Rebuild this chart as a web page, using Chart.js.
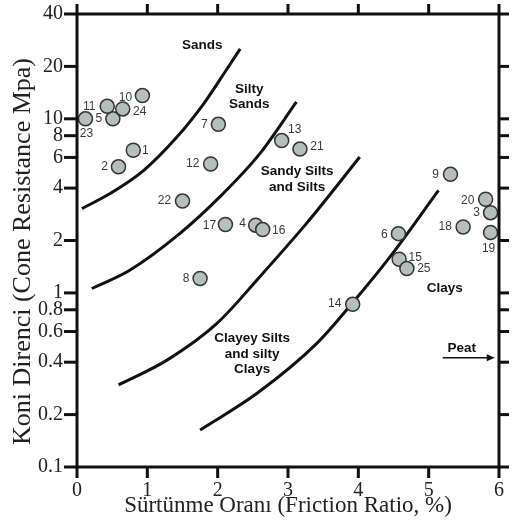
<!DOCTYPE html>
<html>
<head>
<meta charset="utf-8">
<script src="https://cdn.jsdelivr.net/npm/chart.js@4.4.1/dist/chart.umd.min.js"></script>
<style>
  body { margin: 0; background: #fff; }
</style>
</head>
<body>
<canvas id="cpt-chart" width="519" height="523"></canvas>
<script>
// CPT soundings (friction ratio %, cone resistance MPa)
const pointIds = ['1', '2', '3', '4', '5', '6', '7', '8', '9', '10', '11', '12', '13',
                  '14', '15', '16', '17', '18', '19', '20', '21', '22', '23', '24', '25'];
const frictionRatio = [0.80, 0.59, 5.88, 2.54, 0.51, 4.57, 2.01, 1.75, 5.31, 0.93, 0.43, 1.90, 2.91,
                       3.92, 4.58, 2.64, 2.11, 5.49, 5.88, 5.81, 3.17, 1.50, 0.12, 0.65, 4.69];
const coneResistance = [6.6, 5.3, 2.89, 2.45, 10.0, 2.19, 9.3, 1.21, 4.8, 13.6, 11.8, 5.5, 7.5,
                        0.86, 1.56, 2.31, 2.47, 2.39, 2.22, 3.45, 6.7, 3.37, 10.0, 11.4, 1.38];

// where each number sits relative to its circle (px)
const labelDx = [12, -14, -14, -13, -14, -14, -14, -14, -15, -17, -18, -18, 13,
                 -18, 16, 16, -16, -18, -2, -18, 17, -18, 1, 17, 17];
const labelDy = [0, 0, 0, -1, 0, 1, 0, 0, 0, 2, 0, 0, -11,
                 -1, -2, 1, 1, 0, 16, 1, -2, 0, 15, 3, 0];

// zone boundaries
const sandsBoundX = [0.07, 0.47, 0.95, 1.42, 1.80, 2.09, 2.32];
const sandsBoundY = [3.05, 3.72, 5.06, 7.85, 12.2, 18.2, 25.2];
const siltySandsBoundX = [0.21, 0.75, 1.46, 2.03, 2.60, 3.12];
const siltySandsBoundY = [1.06, 1.35, 2.19, 3.56, 6.31, 12.5];
const sandySiltsBoundX = [0.59, 1.28, 1.99, 2.60, 3.26, 4.02];
const sandySiltsBoundY = [0.296, 0.411, 0.668, 1.24, 2.50, 6.03];
const clayeySiltsBoundX = [1.75, 2.56, 3.41, 3.93, 4.45, 5.14];
const clayeySiltsBoundY = [0.163, 0.265, 0.513, 0.889, 1.61, 3.88];

const xTicks = [0, 1, 2, 3, 4, 5, 6];
const yTicks = [0.1, 0.2, 0.4, 0.6, 0.8, 1, 2, 4, 6, 8, 10, 20, 40];

// zone names, anchored at the middle of each text block
const zones = [
    { lines: ['Sands'], x: 1.78, y: 26.4 },
    { lines: ['Silty', 'Sands'], x: 2.45, y: 13.4 },
    { lines: ['Sandy Silts', 'and Silts'], x: 3.13, y: 4.49 },
    { lines: ['Clayey Silts', 'and silty', 'Clays'], x: 2.49, y: 0.445 },
    { lines: ['Clays'], x: 5.23, y: 1.06 },
    { lines: ['Peat'], x: 5.47, y: 0.48 }
];
const peatArrowX = [5.20, 5.94];
const peatArrowY = 0.424;

const SERIF = '"Liberation Serif", "Times New Roman", serif';
const SANS = '"Liberation Sans", Arial, sans-serif';
const INK = '#111';

function curve(xs, ys) {
    return {
        type: 'line',
        data: xs.map((v, i) => ({ x: v, y: ys[i] })),
        borderColor: INK,
        borderWidth: 3,
        pointRadius: 0,
        cubicInterpolationMode: 'monotone',
        fill: false,
        order: 1
    };
}

const annotate = {
    id: 'annotate',
    afterDatasetsDraw(chart) {
        const { ctx, chartArea: area, scales } = chart;
        const sx = scales.x, sy = scales.y;
        ctx.save();

        // tick marks: each one runs from just inside the box to outside it
        ctx.strokeStyle = INK;
        ctx.lineWidth = 3;
        ctx.lineCap = 'butt';
        for (const v of xTicks) {
            const px = sx.getPixelForValue(v);
            ctx.beginPath();
            ctx.moveTo(px, area.bottom - 1);
            ctx.lineTo(px, area.bottom + 11);
            ctx.stroke();
            ctx.beginPath();
            ctx.moveTo(px, area.top + 1);
            ctx.lineTo(px, area.top - 10);
            ctx.stroke();
        }
        for (const v of yTicks) {
            const py = sy.getPixelForValue(v);
            ctx.beginPath();
            ctx.moveTo(area.left + 1, py);
            ctx.lineTo(area.left - 13, py);
            ctx.stroke();
            ctx.beginPath();
            ctx.moveTo(area.right - 1, py);
            ctx.lineTo(area.right + 10, py);
            ctx.stroke();
        }
        ctx.strokeRect(area.left, area.top, area.right - area.left, area.bottom - area.top);

        ctx.textAlign = 'center';
        ctx.textBaseline = 'middle';

        // sounding numbers
        ctx.font = '12px ' + SANS;
        ctx.fillStyle = '#3a3a3a';
        pointIds.forEach((id, i) => {
            ctx.fillText(id,
                sx.getPixelForValue(frictionRatio[i]) + labelDx[i],
                sy.getPixelForValue(coneResistance[i]) + labelDy[i]);
        });

        // zone names
        ctx.font = 'bold 13.5px ' + SANS;
        ctx.fillStyle = INK;
        zones.forEach(z => {
            const cx = sx.getPixelForValue(z.x);
            const top = sy.getPixelForValue(z.y) - (z.lines.length - 1) * 15.5 / 2;
            z.lines.forEach((t, k) => ctx.fillText(t, cx, top + k * 15.5));
        });

        // peat arrow
        const ay = sy.getPixelForValue(peatArrowY);
        const ax0 = sx.getPixelForValue(peatArrowX[0]);
        const ax1 = sx.getPixelForValue(peatArrowX[1]);
        ctx.lineWidth = 1.5;
        ctx.beginPath();
        ctx.moveTo(ax0, ay);
        ctx.lineTo(ax1 - 6, ay);
        ctx.stroke();
        ctx.beginPath();
        ctx.moveTo(ax1, ay);
        ctx.lineTo(ax1 - 8, ay - 3.5);
        ctx.lineTo(ax1 - 8, ay + 3.5);
        ctx.closePath();
        ctx.fill();

        // y axis title
        ctx.font = '26px ' + SERIF;
        ctx.fillStyle = '#222';
        ctx.translate(23, (area.top + area.bottom) / 2 + 11);
        ctx.rotate(-Math.PI / 2);
        ctx.fillText('Koni Direnci (Cone Resistance Mpa)', 0, 0);
        ctx.restore();
    }
};

// tick marks are drawn by the plugin; keep their length for label spacing
const hiddenGrid = len => ({ display: false, drawTicks: true, tickLength: len });
const setTicks = list => scale => { scale.ticks = list.map(v => ({ value: v })); };

new Chart(document.getElementById('cpt-chart'), {
    type: 'scatter',
    data: {
        datasets: [
            {
                label: 'CPT',
                data: frictionRatio.map((v, i) => ({ x: v, y: coneResistance[i] })),
                backgroundColor: '#b4bfba',
                borderColor: '#333',
                borderWidth: 1.5,
                pointRadius: 7,
                order: 0
            },
            curve(sandsBoundX, sandsBoundY),
            curve(siltySandsBoundX, siltySandsBoundY),
            curve(sandySiltsBoundX, sandySiltsBoundY),
            curve(clayeySiltsBoundX, clayeySiltsBoundY)
        ]
    },
    options: {
        responsive: false,
        animation: false,
        layout: { padding: 0 },
        plugins: { legend: { display: false }, tooltip: { enabled: false } },
        scales: {
            x: {
                type: 'linear', position: 'bottom', min: 0, max: 6,
                afterBuildTicks: setTicks(xTicks),
                ticks: { font: { family: SERIF, size: 20 }, color: '#222', padding: 2 },
                grid: hiddenGrid(10), border: { display: false },
                title: {
                    display: true, text: 'Sürtünme Oranı (Friction Ratio, %)',
                    font: { family: SERIF, size: 23, lineHeight: 1 }, color: '#222',
                    padding: { top: 0, bottom: 6 }
                },
                afterFit: s => { s.height = 56; }
            },
            x2: {
                type: 'linear', position: 'top', min: 0, max: 6,
                ticks: { display: false },
                grid: hiddenGrid(9), border: { display: false },
                afterFit: s => { s.height = 13.5; }
            },
            y: {
                type: 'logarithmic', position: 'left', min: 0.1, max: 40,
                afterBuildTicks: setTicks(yTicks),
                ticks: { font: { family: SERIF, size: 20 }, color: '#222', padding: 2,
                         callback: v => String(v) },
                grid: hiddenGrid(12), border: { display: false },
                afterFit: s => { s.width = 77; }
            },
            y2: {
                type: 'logarithmic', position: 'right', min: 0.1, max: 40,
                ticks: { display: false },
                grid: hiddenGrid(9), border: { display: false },
                afterFit: s => { s.width = 20; }
            }
        }
    },
    plugins: [annotate]
});
</script>
</body>
</html>
